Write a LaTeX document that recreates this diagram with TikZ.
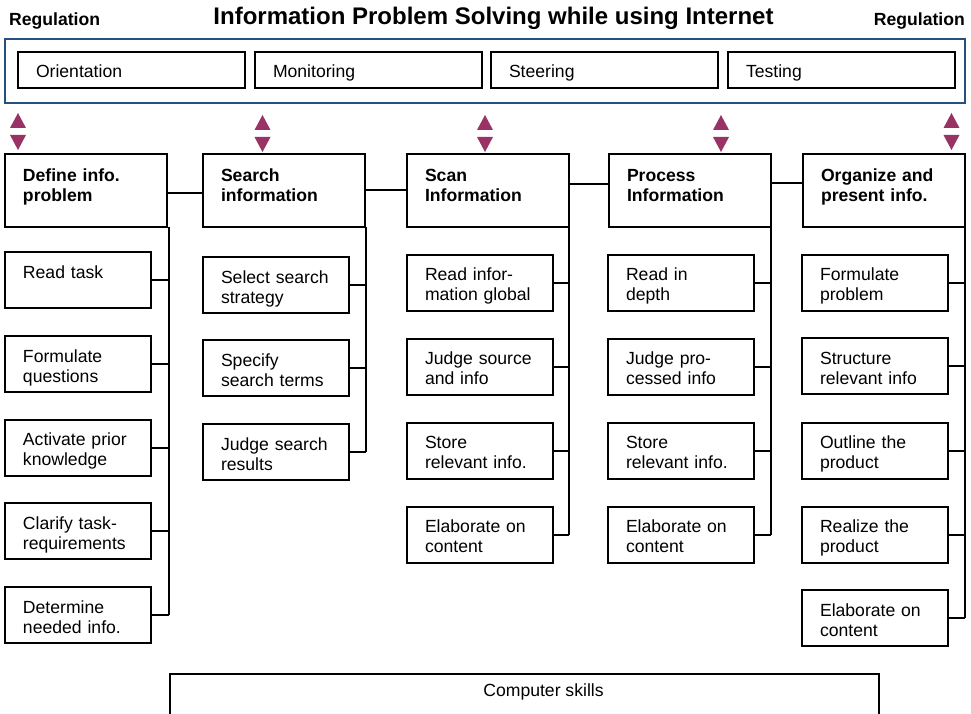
\documentclass[tikz,border=0pt]{standalone}
\usepackage{fontspec}
\setmainfont{Liberation Sans}
\usetikzlibrary{calc}
\definecolor{regblue}{RGB}{38,80,128}
\definecolor{arrowmag}{RGB}{153,51,102}
\begin{document}
\begin{tikzpicture}[x=1pt,y=-1pt,
  txt/.style={font=\fontsize{17.6}{20}\selectfont},
  boxbase/.style={draw, line width=2pt, anchor=north west, outer sep=0pt,
    inner ysep=0pt, inner xsep=18pt, align=left},
  topbox/.style={boxbase, txt, text width=191pt, text height=14.5pt, text depth=0pt,
    minimum height=36pt},
  mainbox/.style={boxbase, font=\bfseries\fontsize{17.6}{20}\selectfont,
    text width=126pt, text height=28pt, text depth=45pt},
  subbox/.style={boxbase, txt, text width=110pt, text height=26pt, text depth=30pt},
  conn/.style={line width=2pt},
  tri/.style={fill=arrowmag}
]
\path[use as bounding box, clip] (0,0) rectangle (971,714);

% titles
\node[font=\bfseries\fontsize{24}{28}\selectfont, anchor=base, inner sep=0pt] (title) at (493.5,24.5) {Information Problem Solving while using Internet};
\node[font=\bfseries\fontsize{17.6}{20}\selectfont, anchor=base west, inner sep=0pt] (regl) at (9,26) {Regulation};
\node[font=\bfseries\fontsize{17.6}{20}\selectfont, anchor=base east, inner sep=0pt] (regr) at (965,25.5) {Regulation};

% regulation box
\node[draw=regblue, line width=2pt, anchor=north west, inner sep=0pt, outer sep=0pt,
  minimum width=960pt, minimum height=64pt] (reg) at (5,39.5) {};
\node[topbox] (orient) at (18,52) {Orientation};
\node[topbox] (monit) at (255,52) {Monitoring};
\node[topbox] (steer) at (491,52) {Steering};
\node[topbox] (test) at (728,52) {Testing};

% triangles
\foreach \cx/\dy in {18/0, 262.5/2, 485/2, 721/2, 951.5/0}{
  \fill[tri] (\cx-8,128+\dy) -- (\cx+8,128+\dy) -- (\cx,113+\dy) -- cycle;
  \fill[tri] (\cx-8,135+\dy) -- (\cx+8,135+\dy) -- (\cx,150+\dy) -- cycle;
}

% main boxes
\node[mainbox] (define) at (5,154) {Define info.\\problem};
\node[mainbox] (search) at (203,154) {Search\\information};
\node[mainbox] (scan) at (407,154) {Scan\\Information};
\node[mainbox] (process) at (609,154) {Process\\Information};
\node[mainbox] (organize) at (803,154) {Organize and\\present info.};

% main connectors
\draw[conn] (define.east |- 0,193) -- (search.west |- 0,193);
\draw[conn] (search.east |- 0,190) -- (scan.west |- 0,190);
\draw[conn] (scan.east |- 0,184) -- (process.west |- 0,184);
\draw[conn] (process.east |- 0,183) -- (organize.west |- 0,183);

% define column
\node[subbox] (d1) at (5,252) {Read task};
\node[subbox] (d2) at (5,336) {Formulate\\questions};
\node[subbox] (d3) at (5,419.5) {Activate prior\\knowledge};
\node[subbox] (d4) at (5,503) {Clarify task-\\requirements};
\node[subbox] (d5) at (5,587) {Determine\\needed info.};

% search column
\node[subbox] (s1) at (203,257) {Select search\\strategy};
\node[subbox] (s2) at (203,340) {Specify\\search terms};
\node[subbox] (s3) at (203,424) {Judge search\\results};

% scan column
\node[subbox] (c1) at (407,254.5) {Read infor-\\mation global};
\node[subbox] (c2) at (407,338.5) {Judge source\\and info};
\node[subbox] (c3) at (407,422.5) {Store\\relevant info.};
\node[subbox] (c4) at (407,506.5) {Elaborate on\\content};

% process column
\node[subbox] (p1) at (608,254.5) {Read in\\depth};
\node[subbox] (p2) at (608,338.5) {Judge pro-\\cessed info};
\node[subbox] (p3) at (608,422.5) {Store\\relevant info.};
\node[subbox] (p4) at (608,506.5) {Elaborate on\\content};

% organize column
\node[subbox] (o1) at (802,254.5) {Formulate\\problem};
\node[subbox] (o2) at (802,338) {Structure\\relevant info};
\node[subbox] (o3) at (802,422.5) {Outline the\\product};
\node[subbox] (o4) at (802,506.5) {Realize the\\product};
\node[subbox] (o5) at (802,590) {Elaborate on\\content};

% vertical trunks
\coordinate (dv) at ([xshift=1.5pt]define.south east);
\coordinate (sv) at ([xshift=0.5pt]search.south east);
\coordinate (cv) at (scan.south east);
\coordinate (pv) at (process.south east);
\coordinate (ov) at ([xshift=-0.5pt]organize.south east);

\draw[conn] (dv) -- (dv |- d5.east);
\foreach \n in {d1,d2,d3,d4,d5} \draw[conn] (\n.east) -- (\n.east -| dv);
\draw[conn] (sv) -- (sv |- s3.east);
\foreach \n in {s1,s2,s3} \draw[conn] (\n.east) -- (\n.east -| sv);
\draw[conn] (cv) -- (cv |- c4.east);
\foreach \n in {c1,c2,c3,c4} \draw[conn] (\n.east) -- (\n.east -| cv);
\draw[conn] (pv) -- (pv |- p4.east);
\foreach \n in {p1,p2,p3,p4} \draw[conn] (\n.east) -- (\n.east -| pv);
\draw[conn] (ov) -- (ov |- o5.east);
\foreach \n in {o1,o2,o3,o4,o5} \draw[conn] (\n.east) -- (\n.east -| ov);

% computer skills
\node[draw, line width=2pt, anchor=north west, inner sep=0pt, outer sep=0pt,
  minimum width=709pt, minimum height=80pt] (skills) at (170,673.5) {};
\node[txt, anchor=base, inner sep=0pt] (skillstxt) at (543.5,696) {Computer skills};
\end{tikzpicture}
\end{document}
